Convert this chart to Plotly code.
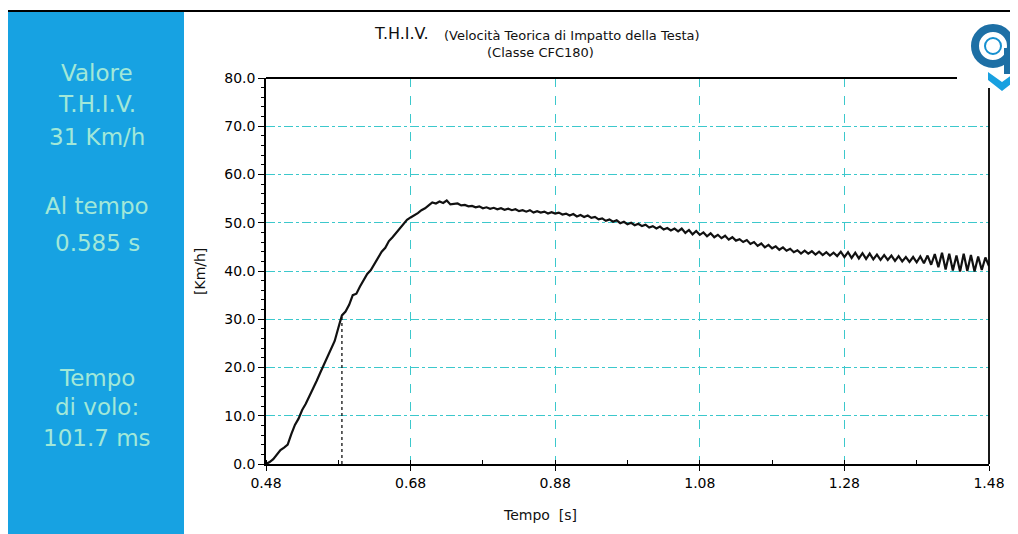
import plotly.graph_objects as go

# page body has an 8px margin, so the figure is offset by 8px in the photo
OFF = 8
W, H = 1018 - OFF, 534 - OFF

# ---- data ----
time_s = [
    0.480, 0.485, 0.490, 0.495, 0.500, 0.505, 0.510, 0.515, 0.520, 0.525,
    0.530, 0.535, 0.540, 0.545, 0.550, 0.555, 0.560, 0.565, 0.570, 0.575,
    0.580, 0.585, 0.590, 0.595, 0.600, 0.605, 0.610, 0.615, 0.620, 0.625,
    0.630, 0.635, 0.640, 0.645, 0.650, 0.655, 0.660, 0.665, 0.670, 0.675,
    0.680, 0.685, 0.690, 0.695, 0.700, 0.705, 0.710, 0.715, 0.720, 0.725,
    0.730, 0.735, 0.740, 0.745, 0.750, 0.755, 0.760, 0.765, 0.770, 0.775,
    0.780, 0.785, 0.790, 0.795, 0.800, 0.805, 0.810, 0.815, 0.820, 0.825,
    0.830, 0.835, 0.840, 0.845, 0.850, 0.855, 0.860, 0.865, 0.870, 0.875,
    0.880, 0.885, 0.890, 0.895, 0.900, 0.905, 0.910, 0.915, 0.920, 0.925,
    0.930, 0.935, 0.940, 0.945, 0.950, 0.955, 0.960, 0.965, 0.970, 0.975,
    0.980, 0.985, 0.990, 0.995, 1.000, 1.005, 1.010, 1.015, 1.020, 1.025,
    1.030, 1.035, 1.040, 1.045, 1.050,
    1.055, 1.060, 1.065, 1.070, 1.075, 1.080, 1.085, 1.090, 1.095, 1.100,
    1.105, 1.110, 1.115, 1.120, 1.125, 1.130, 1.135, 1.140, 1.145, 1.150,
    1.155, 1.160, 1.165, 1.170, 1.175, 1.180, 1.185, 1.190, 1.195, 1.200,
    1.205, 1.210, 1.215, 1.220, 1.225, 1.230, 1.235, 1.240, 1.245, 1.250,
    1.255, 1.260, 1.265, 1.270, 1.275, 1.280, 1.285, 1.290, 1.295, 1.300,
    1.305, 1.310, 1.315, 1.320, 1.325, 1.330, 1.335, 1.340, 1.345, 1.350,
    1.355, 1.360, 1.365, 1.370, 1.375, 1.380, 1.385, 1.390, 1.395, 1.400,
    1.405, 1.410, 1.415, 1.420, 1.425, 1.430, 1.435, 1.440, 1.445, 1.450,
    1.455, 1.460, 1.465, 1.470, 1.475, 1.480,
]
thiv_kmh = [
    0.0, 0.4, 1.0, 1.9, 2.9, 3.4, 4.0, 6.2, 8.1, 9.4,
    11.2, 12.5, 14.0, 15.6, 17.2, 18.9, 20.5, 22.0, 23.8, 25.5,
    28.2, 30.8, 31.6, 33.0, 35.0, 35.3, 36.8, 38.0, 39.4, 40.2,
    41.5, 42.6, 44.0, 44.8, 46.2, 47.0, 47.9, 48.9, 49.8, 50.6,
    51.1, 51.5, 52.0, 52.6, 53.0, 53.6, 54.2, 54.0, 54.4, 54.1,
    54.6, 53.8, 53.9, 54.0, 53.6, 53.7, 53.4, 53.5, 53.2, 53.4,
    53.0, 53.2, 52.9, 53.1, 52.8, 53.0, 52.7, 52.9, 52.6, 52.8,
    52.4, 52.6, 52.3, 52.6, 52.1, 52.4, 52.1, 52.3, 51.9, 52.2,
    51.9, 52.1, 51.7, 51.9, 51.5, 51.8, 51.3, 51.6, 51.2, 51.5,
    51.0, 51.2, 50.7, 50.9, 50.4, 50.7, 50.2, 50.5, 49.9, 50.2,
    49.7, 50.0, 49.5, 49.8, 49.3, 49.6, 49.0, 49.3, 48.8, 49.2,
    48.6, 48.9, 48.4, 48.8, 48.2,
    48.8, 47.9, 48.5, 47.6, 48.3, 47.5, 48.0, 47.2, 47.8, 47.0,
    47.5, 46.8, 47.3, 46.5, 47.0, 46.3, 46.6, 46.0, 46.4, 45.6,
    46.0, 45.2, 45.7, 44.9, 45.4, 44.7, 45.1, 44.4, 44.9, 44.2,
    44.6, 43.9, 44.3, 43.6, 44.2, 43.6, 44.1, 43.4, 44.0, 43.3,
    43.9, 43.2, 43.8, 43.1, 44.0, 42.9, 43.9, 42.7, 43.8, 42.6,
    43.7, 42.5, 43.6, 42.4, 43.4, 42.3, 43.3, 42.3, 43.2, 42.1,
    43.1, 42.0, 42.9, 41.9, 42.9, 41.8, 43.0, 41.6, 43.2, 41.3,
    43.5, 40.8, 43.8, 40.3, 43.6, 40.1, 43.2, 39.9, 43.6, 40.0,
    43.3, 39.9, 43.0, 40.2, 42.8, 41.0,
]
thiv_time = 0.585
thiv_value = 31
x_ticks = [0.48, 0.68, 0.88, 1.08, 1.28, 1.48]
y_ticks = [0, 10, 20, 30, 40, 50, 60, 70, 80]
panel_lines = ["Valore", "T.H.I.V.", "31 Km/h", "Al tempo", "0.585 s",
               "Tempo", "di volo:", "101.7 ms"]
panel_y_px = [73, 104, 137, 206, 243, 378, 407, 438]

# ---- layout geometry (pixels of the photographed page) ----
PL, PR, PT, PB = 266, 989, 78, 464


def px(x):
    return (x - OFF) / W


def py(y):
    return 1 - (y - OFF) / H


FONT = "DejaVu Sans"
GRID = "#3cc8cc"

fig = go.Figure()

fig.add_trace(go.Scatter(
    x=time_s, y=thiv_kmh, mode="lines",
    line=dict(color="#111111", width=2.2), showlegend=False, hoverinfo="skip"))

fig.add_trace(go.Scatter(
    x=[thiv_time, thiv_time], y=[0, thiv_value], mode="lines",
    line=dict(color="#111111", width=1.3, dash="dot"), showlegend=False,
    hoverinfo="skip"))

fig.update_layout(
    width=W, height=H, autosize=False,
    margin=dict(l=0, r=0, t=0, b=0, pad=0, autoexpand=False),
    paper_bgcolor="white", plot_bgcolor="white",
    font=dict(family=FONT, color="#111111"),
    xaxis=dict(
        domain=[px(PL), px(PR)], range=[0.48, 1.48], automargin=False,
        tickvals=x_ticks, ticktext=[f"{v:.2f}" for v in x_ticks],
        tickfont=dict(size=14, color="#000000"),
        showgrid=True, gridcolor=GRID, griddash="dash", gridwidth=1,
        zeroline=False, showline=True, linecolor="black", linewidth=1.5,
        ticks="outside", ticklen=5, tickcolor="black",
        minor=dict(dtick=0.1, tick0=0.48, ticks="inside", ticklen=4,
                   tickcolor="black", showgrid=False),
        fixedrange=True,
    ),
    yaxis=dict(
        domain=[py(PB), py(PT)], range=[0, 80], automargin=False,
        tickvals=y_ticks, ticktext=[f"{v:.1f}" for v in y_ticks],
        tickfont=dict(size=14, color="#000000"),
        showgrid=True, gridcolor=GRID, griddash="dashdot", gridwidth=1,
        zeroline=False, showline=True, linecolor="black", linewidth=1.5,
        ticks="outside", ticklen=6, tickcolor="black",
        minor=dict(dtick=2, ticks="outside", ticklen=3, tickcolor="black",
                   showgrid=False),
        fixedrange=True,
    ),
)

shapes = []
# blue side panel
shapes.append(dict(type="rect", xref="paper", yref="paper",
                   x0=px(8), x1=px(184), y0=py(534), y1=py(12),
                   fillcolor="#17a2e2", line=dict(width=0), layer="below"))
# top page line
shapes.append(dict(type="line", xref="paper", yref="paper",
                   x0=px(8), x1=px(1018), y0=py(11), y1=py(11),
                   line=dict(color="black", width=2)))
# plot top border
shapes.append(dict(type="line", xref="paper", yref="paper",
                   x0=px(PL), x1=px(957), y0=py(PT), y1=py(PT),
                   line=dict(color="black", width=2)))
# plot right border
shapes.append(dict(type="line", xref="paper", yref="paper",
                   x0=px(PR), x1=px(PR), y0=py(88), y1=py(PB),
                   line=dict(color="black", width=1.8)))
# logo ring
shapes.append(dict(type="circle", xref="paper", yref="paper",
                   x0=px(975), x1=px(1011), y0=py(64), y1=py(28),
                   line=dict(color="#1d6fa5", width=8)))
shapes.append(dict(type="circle", xref="paper", yref="paper",
                   x0=px(985), x1=px(1001), y0=py(54), y1=py(38),
                   line=dict(color="#1590d0", width=2)))
shapes.append(dict(type="rect", xref="paper", yref="paper",
                   x0=px(1004), x1=px(1012), y0=py(74), y1=py(48),
                   fillcolor="#1d6fa5", line=dict(width=0)))
# logo chevron
x0, x1, xm = px(988), px(1016), px(1002)
shapes.append(dict(type="path", xref="paper", yref="paper",
                   path=f"M {x0} {py(72)} L {xm} {py(82)} L {x1} {py(72)} "
                        f"L {x1} {py(80)} L {xm} {py(91)} L {x0} {py(80)} Z",
                   fillcolor="#18a0e0", line=dict(width=0)))
fig.update_layout(shapes=shapes)

ann = []
for txt, yy in zip(panel_lines, panel_y_px):
    ann.append(dict(text=txt, xref="paper", yref="paper", x=px(97), y=py(yy),
                    xanchor="center", yanchor="middle", showarrow=False,
                    font=dict(family=FONT, size=23, color="#a2e8d8")))
ann.append(dict(text="T.H.I.V.", xref="paper", yref="paper", x=px(372), y=py(33),
                xanchor="left", yanchor="middle", showarrow=False,
                font=dict(family=FONT, size=16, color="#111111")))
ann.append(dict(text="(Velocità Teorica di Impatto della Testa)", xref="paper",
                yref="paper", x=px(442), y=py(35), xanchor="left", yanchor="middle",
                showarrow=False,
                font=dict(family=FONT, size=13, color="#111111")))
ann.append(dict(text="(Classe CFC180)", xref="paper", yref="paper", x=px(540),
                y=py(52), xanchor="center", yanchor="middle", showarrow=False,
                font=dict(family=FONT, size=13, color="#111111")))
ann.append(dict(text="Tempo&nbsp;&nbsp;[s]", xref="paper", yref="paper", x=px(540),
                y=py(515), xanchor="center", yanchor="middle", showarrow=False,
                font=dict(family=FONT, size=14, color="#111111")))
ann.append(dict(text="[Km/h]", xref="paper", yref="paper", x=px(200), y=py(272),
                xanchor="center", yanchor="middle", showarrow=False, textangle=-90,
                font=dict(family=FONT, size=14, color="#111111")))
fig.update_layout(annotations=ann)

fig.write_html("out.html")
